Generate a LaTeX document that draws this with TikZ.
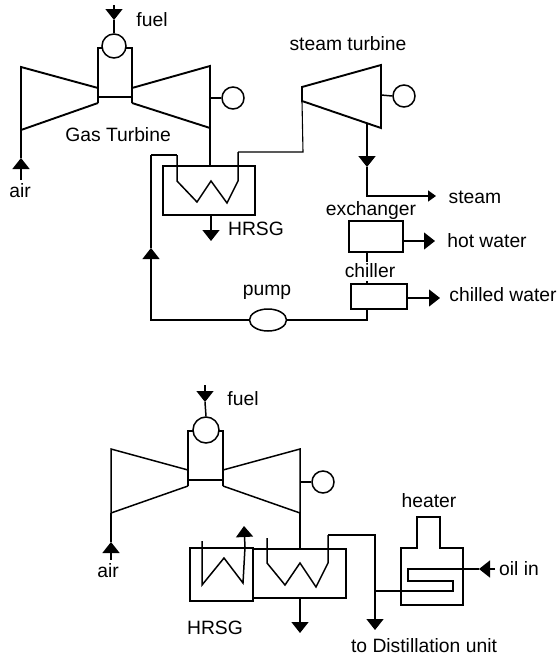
\documentclass[tikz,border=0pt]{standalone}
\usepackage{fontspec}
\setmainfont{Liberation Sans}
\usetikzlibrary{arrows.meta,shapes.geometric}
\tikzset{
  x=1pt,y=-1pt,
  pipe/.style={line width=1.5pt,line join=miter},
  thin pipe/.style={line width=1.1pt},
  thick pipe/.style={line width=1.9pt},
  headed/.style={-{Triangle[length=11pt,width=17pt]}},
  smallhead/.style={-{Triangle[length=8pt,width=11pt]}},
  lbl/.style={inner sep=0pt,font=\fontsize{19.3}{21}\selectfont,text=black},
  disc/.style={circle,draw,line width=1.5pt,inner sep=0pt,fill=white},
  pumpshape/.style={ellipse,draw,line width=1.5pt,inner sep=0pt,minimum width=37pt,minimum height=22pt},
  vessel/.style={rectangle,draw,line width=1.6pt,inner sep=0pt},
}
\newcommand{\boxat}[5]{\node[vessel,minimum width=#4pt,minimum height=#5pt] (#1) at (#2,#3) {};}
\begin{document}
\begin{tikzpicture}
\useasboundingbox[fill=white] (0,0) rectangle (559,656);
% ---------- upper plant ----------
\coordinate (fuelA) at (114,5); \coordinate (fuelHead) at (114,20);
\draw[pipe,headed] (fuelA) -- (fuelHead);
\coordinate (chA1) at (98,48); \coordinate (chA2) at (98,103);
\coordinate (chA3) at (132,103); \coordinate (chA4) at (132,48);
\draw[thick pipe] (114,48) -- (chA1) -- (chA2);
\draw[thick pipe] (chA3) -- (chA4) -- (114,48);
\draw[thick pipe] (98,97) -- (132,97);
\node[disc,minimum size=24pt] (burnerA) at (114,46) {};
\draw[pipe] (fuelHead) -- (burnerA.north);
\coordinate (compA1) at (21,67); \coordinate (compA2) at (21,130);
\draw[thick pipe] (98,88) -- (compA1) -- (compA2) -- (chA2);
\coordinate (turbA1) at (210,66); \coordinate (turbA2) at (210,128);
\draw[thick pipe] (132,88) -- (turbA1) -- (turbA2) -- (chA3);
\node[disc,minimum size=22pt] (genA) at (233,98) {};
\draw[pipe] (210,98) -- (genA.west);
\coordinate (airA) at (21,180); \coordinate (airHeadA) at (21,158);
\draw[pipe,headed] (airA) -- (airHeadA);
\draw[pipe] (airHeadA) -- (compA2);
\node[lbl] (airLabelA) at (20,191) {air};
\node[lbl] (fuelLabelA) at (152,20) {fuel};
\node[lbl] (gasLabel) at (118,135) {Gas Turbine};
\boxat{hrsgA}{209}{190.5}{92}{49}
\draw[pipe] (turbA2) -- (210,166);
\draw[pipe,headed] (211,215) -- (211,241);
\node[lbl] (hrsgLabelA) at (256,229) {HRSG};
% coil and steam line
\coordinate (stIn) at (303,152);
\coordinate (stLeft1) at (302,87); \coordinate (stLeft2) at (302,101);
\coordinate (stRight1) at (381,65); \coordinate (stRight2) at (381,128);
\draw[thin pipe] (151,155) -- (177,155);
\draw[pipe] (177,155) -- (177,181) -- (197,202) -- (211,181) -- (227,203) -- (238,181) -- (238,152);
\draw[thin pipe] (238,152) -- (stIn) -- (stLeft2);
\draw[thick pipe] (stLeft2) -- (stLeft1) -- (stRight1) -- (stRight2) -- cycle;
\node[disc,minimum size=22pt] (genB) at (404,96) {};
\draw[pipe] (381,95) -- (genB.west);
\node[lbl] (stLabel) at (348,44) {steam turbine};
\coordinate (stOut) at (367,124); \coordinate (stHead) at (367,167); \coordinate (stTee) at (367,197);
\draw[thick pipe,headed] (stOut) -- (stHead);
\draw[thick pipe] (stHead) -- (stTee);
\coordinate (stEnd) at (436,196);
\draw[pipe,smallhead] (stTee |- stEnd) -- (stEnd);
\node[lbl] (steamLabel) at (475,197) {steam};
\node[lbl] (exLabel) at (371,211) {exchanger};
\boxat{ex}{376}{236.5}{54}{31}
\coordinate (hotEnd) at (435,241);
\draw[thin pipe,headed] (ex.east |- hotEnd) -- (hotEnd);
\node[lbl] (hotLabel) at (487,241) {hot water};
\node[lbl] (chLabel) at (370,271) {chiller};
\boxat{chil}{379}{296.5}{56}{25}
\draw[thin pipe] (367,252) -- (367,262);
\draw[thin pipe] (367,281) -- (367,284);
\coordinate (chEnd) at (440,298);
\draw[thin pipe,headed] (chil.east |- chEnd) -- (chEnd);
\node[lbl] (chwLabel) at (503,295) {chilled water};
\node[pumpshape] (pump) at (268,320) {};
\node[lbl] (pumpLabel) at (267,292) {pump};
\coordinate (pumpOut) at (367,320);
\draw[thin pipe] (367,309) -- (pumpOut) -- (pump.east);
\coordinate (retCorner) at (151,320); \coordinate (retHead) at (151,248);
\draw[thin pipe,headed] (pump.west) -- (retCorner) -- (retHead);
\draw[pipe] (retHead) -- (151,155);
% ---------- lower plant ----------
\coordinate (fuelB) at (205,385); \coordinate (fuelHeadB) at (205,402);
\draw[pipe,headed] (fuelB) -- (fuelHeadB);
\node[lbl] (fuelLabelB) at (243,399) {fuel};
\draw[thick pipe] (206,431) -- (188,431) -- (188,486);
\draw[thick pipe] (223,486) -- (223,431) -- (206,431);
\draw[thin pipe] (188,480) -- (223,480);
\node[disc,minimum size=26pt] (burnerB) at (206,430) {};
\draw[pipe] (fuelHeadB) -- (burnerB.north);
\coordinate (compB1) at (111,449); \coordinate (compB2) at (111,513);
\draw[pipe] (188,470) -- (compB1) -- (compB2) -- (188,486);
\coordinate (turbB1) at (300,449); \coordinate (turbB2) at (300,513);
\draw[pipe] (223,470) -- (turbB1) -- (turbB2) -- (223,486);
\node[disc,minimum size=22pt] (genC) at (323,482) {};
\draw[pipe] (300,482) -- (genC.west);
\coordinate (airB) at (111,560); \coordinate (airHeadB) at (111,542);
\draw[pipe,headed] (airB) -- (airHeadB);
\draw[pipe] (airHeadB) -- (compB2);
\node[lbl] (airLabelB) at (108,571) {air};
\boxat{hrsgL}{221.5}{574.5}{63}{53}
\boxat{hrsgR}{299.5}{573.5}{93}{49}
\draw[pipe] (turbB2) -- (300,549);
\draw[pipe,headed] (300,598) -- (300,633);
\node[lbl] (hrsgLabelB) at (215,628) {HRSG};
\coordinate (lcHead) at (244,526);
\draw[pipe] (202,541) -- (202,585) -- (224,558) -- (243,583) -- (245,547);
\draw[pipe,headed] (245,547) -- (lcHead);
\coordinate (rcOut) at (375,535); \coordinate (rcTee) at (375,591); \coordinate (rcEnd) at (375,630);
\draw[pipe] (267,538) -- (267,563) -- (285,585) -- (300,563) -- (316,587) -- (328,563) -- (328,535);
\draw[thin pipe] (328,535) -- (rcOut) -- (rcTee);
\draw[pipe,headed] (rcTee) -- (rcEnd);
% heater
\coordinate (hA) at (401,548); \coordinate (hB) at (417,548); \coordinate (hC) at (417,517);
\coordinate (hD) at (440,517); \coordinate (hE) at (440,548); \coordinate (hF) at (463,548);
\coordinate (hG) at (463,605); \coordinate (hH) at (401,605);
\draw[thick pipe] (hA) -- (hB) -- (hC) -- (hD) -- (hE) -- (hF) -- (hG) -- (hH) -- cycle;
\node[lbl] (heaterLabel) at (429,501) {heater};
\coordinate (oilHead) at (479,569); \coordinate (oilTail) at (495,569);
\draw[pipe,headed] (oilTail) -- (oilHead);
\draw[pipe] (oilHead) -- (408,569) -- (408,581) -- (453,581) -- (453,591) -- (rcTee);
\node[lbl] (oilLabel) at (519,569) {oil in};
\node[lbl] (distLabel) at (424,646) {to Distillation unit};
\end{tikzpicture}
\end{document}
